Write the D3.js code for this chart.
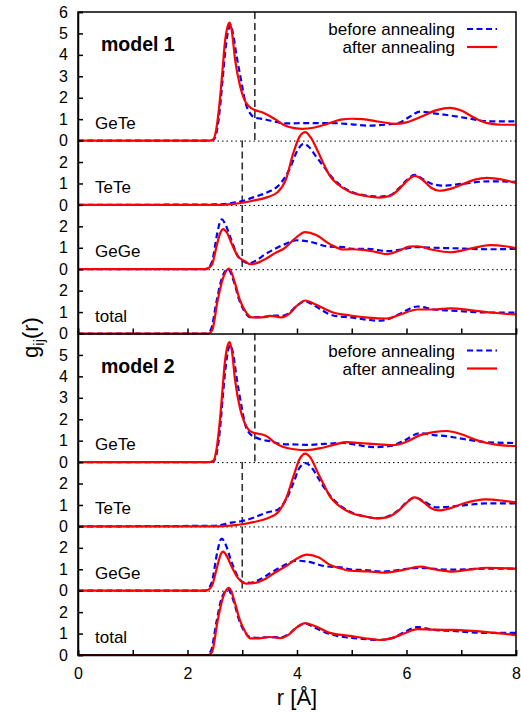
<!DOCTYPE html>
<html>
<head>
<meta charset="utf-8">
<script src="https://cdn.jsdelivr.net/npm/d3@7"></script>
<style>
  body { margin: 0; background: #fff; }
  text { font-family: "Liberation Sans", Arial, sans-serif; fill: #000; }
</style>
</head>
<body>
<div id="chart"></div>
<script>
// g(r) curves, [r, g] pairs
const m1GeTeBefore = [[0,0],[2.4,0],[2.48,0.05],[2.54,0.5],[2.6,1.7],[2.65,3.1],[2.7,4.4],[2.75,5.2],[2.79,5.4],[2.83,5.0],[2.9,3.9],[2.98,2.8],[3.06,1.75],[3.15,1.25],[3.23,1.07],[3.4,1.0],[3.6,0.88],[3.8,0.8],[4.2,0.82],[4.6,0.82],[5.0,0.76],[5.3,0.7],[5.6,0.74],[5.85,0.82],[6.05,1.1],[6.25,1.35],[6.5,1.27],[6.8,1.17],[7.1,1.05],[7.5,0.9],[8,0.9]];
const m1GeTeAfter = [[0,0],[2.4,0],[2.47,0.05],[2.53,0.6],[2.59,1.87],[2.64,3.3],[2.68,4.5],[2.73,5.3],[2.77,5.5],[2.81,5.1],[2.87,3.75],[2.96,2.55],[3.04,1.9],[3.12,1.6],[3.23,1.43],[3.35,1.33],[3.45,1.22],[3.6,1.0],[3.78,0.7],[3.95,0.58],[4.1,0.55],[4.3,0.6],[4.55,0.78],[4.8,0.98],[5.0,1.02],[5.2,1.0],[5.5,0.88],[5.8,0.78],[6.0,0.85],[6.3,1.15],[6.55,1.42],[6.8,1.53],[7.0,1.4],[7.25,1.05],[7.5,0.8],[7.75,0.74],[8,0.74]];
const m1TeTeBefore = [[0,0],[2.5,0.02],[2.8,0.08],[3.0,0.18],[3.2,0.35],[3.45,0.58],[3.69,0.98],[3.87,1.7],[4.0,2.5],[4.12,2.85],[4.22,2.7],[4.35,2.25],[4.5,1.75],[4.65,1.25],[4.8,0.9],[5.0,0.6],[5.25,0.44],[5.5,0.38],[5.7,0.45],[5.85,0.75],[6.0,1.15],[6.15,1.4],[6.3,1.2],[6.5,0.95],[6.7,0.9],[7.0,0.98],[7.5,1.1],[8,1.07]];
const m1TeTeAfter = [[0,0],[2.5,0],[2.8,0.04],[3.0,0.1],[3.2,0.2],[3.45,0.35],[3.65,0.6],[3.8,1.2],[3.93,2.4],[4.05,3.2],[4.15,3.4],[4.25,3.15],[4.38,2.5],[4.48,1.95],[4.6,1.35],[4.75,0.95],[4.97,0.6],[5.25,0.42],[5.5,0.34],[5.7,0.42],[5.85,0.7],[6.0,1.1],[6.15,1.35],[6.3,1.15],[6.45,0.8],[6.6,0.66],[6.8,0.75],[7.04,0.98],[7.25,1.18],[7.47,1.26],[7.75,1.18],[8,1.03]];
const m1GeGeBefore = [[0,0],[2.32,0],[2.4,0.12],[2.45,0.37],[2.54,1.63],[2.6,2.25],[2.63,2.33],[2.68,2.15],[2.81,1.3],[2.92,0.6],[3.05,0.33],[3.14,0.28],[3.25,0.4],[3.42,0.7],[3.6,0.95],[3.78,1.17],[4.0,1.35],[4.2,1.3],[4.6,1.05],[4.85,1.03],[5.0,0.95],[5.3,0.95],[5.64,0.84],[5.9,0.92],[6.2,1.03],[6.5,1.0],[6.8,0.98],[7.53,0.93],[8,0.95]];
const m1GeGeAfter = [[0,0],[2.32,0],[2.4,0.08],[2.45,0.23],[2.54,1.17],[2.6,1.7],[2.65,1.87],[2.72,1.7],[2.81,1.17],[2.92,0.61],[3.05,0.37],[3.14,0.23],[3.25,0.27],[3.42,0.47],[3.6,0.75],[3.78,1.0],[3.95,1.4],[4.15,1.73],[4.35,1.6],[4.6,1.17],[4.85,0.92],[5.0,0.93],[5.2,0.9],[5.45,0.8],[5.64,0.7],[5.85,0.85],[6.05,1.05],[6.2,1.07],[6.45,0.92],[6.8,0.79],[7.1,0.92],[7.53,1.12],[7.8,1.07],[8,0.98]];
const m1TotalBefore = [[0,0],[2.35,0],[2.43,0.2],[2.53,1.5],[2.63,2.6],[2.74,3.0],[2.85,2.4],[2.94,1.6],[3.04,1.05],[3.15,0.76],[3.36,0.76],[3.57,0.84],[3.72,0.82],[3.85,0.95],[4.0,1.3],[4.15,1.5],[4.3,1.32],[4.66,0.84],[4.97,0.75],[5.5,0.6],[5.64,0.65],[5.9,0.95],[6.2,1.26],[6.5,1.12],[6.8,1.07],[7.53,0.98],[8,0.98]];
const m1TotalAfter = [[0,0],[2.38,0],[2.45,0.15],[2.55,1.54],[2.65,2.6],[2.76,3.03],[2.87,2.33],[2.96,1.54],[3.05,1.07],[3.18,0.75],[3.36,0.75],[3.5,0.82],[3.6,0.8],[3.72,0.75],[3.85,0.9],[4.0,1.3],[4.15,1.54],[4.3,1.4],[4.66,0.98],[4.97,0.84],[5.3,0.74],[5.64,0.7],[5.9,0.9],[6.2,1.12],[6.5,1.12],[6.8,1.17],[7.2,1.08],[7.53,0.98],[8,0.89]];

const m2GeTeBefore = [[0,0],[2.4,0],[2.48,0.05],[2.54,0.5],[2.6,1.7],[2.65,3.2],[2.7,4.5],[2.75,5.3],[2.79,5.45],[2.83,5.1],[2.9,3.9],[2.98,2.7],[3.06,1.7],[3.15,1.3],[3.23,1.17],[3.35,1.05],[3.5,0.98],[3.7,0.85],[4.0,0.82],[4.2,0.8],[4.5,0.85],[4.85,0.89],[5.1,0.8],[5.4,0.7],[5.7,0.75],[5.95,1.0],[6.25,1.35],[6.5,1.26],[6.73,1.21],[7.1,1.05],[7.47,0.93],[8,0.89]];
const m2GeTeAfter = [[0,0],[2.4,0],[2.47,0.05],[2.53,0.6],[2.59,1.9],[2.64,3.4],[2.68,4.6],[2.73,5.4],[2.77,5.6],[2.81,5.2],[2.87,3.8],[2.96,2.5],[3.04,1.85],[3.12,1.5],[3.23,1.35],[3.35,1.3],[3.45,1.2],[3.6,0.9],[3.75,0.7],[3.95,0.6],[4.18,0.56],[4.45,0.66],[4.7,0.83],[4.9,0.93],[5.2,0.88],[5.5,0.83],[5.75,0.79],[6.0,0.95],[6.25,1.26],[6.5,1.4],[6.73,1.45],[7.0,1.3],[7.25,1.05],[7.47,0.89],[7.75,0.78],[8,0.75]];
const m2TeTeBefore = [[0,0],[2.5,0.03],[2.83,0.19],[3.0,0.25],[3.2,0.4],[3.45,0.65],[3.65,0.78],[3.8,1.25],[3.93,2.0],[4.05,2.75],[4.16,2.95],[4.28,2.7],[4.4,2.2],[4.5,1.8],[4.65,1.3],[4.8,0.95],[5.0,0.65],[5.27,0.45],[5.46,0.38],[5.64,0.45],[5.85,0.75],[6.0,1.12],[6.15,1.35],[6.3,1.2],[6.55,0.89],[6.8,0.92],[7.04,0.98],[7.43,1.07],[8,1.07]];
const m2TeTeAfter = [[0,0],[2.5,0],[2.83,0.05],[3.0,0.1],[3.2,0.2],[3.45,0.37],[3.65,0.65],[3.8,1.3],[3.93,2.3],[4.05,3.15],[4.15,3.4],[4.25,3.2],[4.38,2.5],[4.48,2.0],[4.6,1.4],[4.75,1.0],[4.97,0.65],[5.27,0.45],[5.46,0.37],[5.64,0.42],[5.85,0.72],[6.0,1.1],[6.15,1.35],[6.3,1.15],[6.45,0.85],[6.6,0.75],[6.8,0.85],[7.04,1.07],[7.25,1.2],[7.43,1.26],[7.75,1.2],[8,1.12]];
const m2GeGeBefore = [[0,0],[2.32,0],[2.4,0.15],[2.45,0.45],[2.54,1.75],[2.6,2.35],[2.63,2.43],[2.68,2.25],[2.81,1.3],[2.92,0.65],[3.05,0.38],[3.15,0.37],[3.3,0.5],[3.5,0.8],[3.7,1.1],[4.0,1.4],[4.2,1.35],[4.5,1.15],[4.85,1.07],[4.97,1.0],[5.3,0.95],[5.57,0.89],[5.9,0.98],[6.25,1.07],[6.6,1.0],[6.85,0.98],[7.47,1.03],[8,1.03]];
const m2GeGeAfter = [[0,0],[2.33,0],[2.4,0.08],[2.45,0.25],[2.54,1.1],[2.6,1.65],[2.65,1.82],[2.72,1.6],[2.81,1.1],[2.92,0.6],[3.08,0.33],[3.2,0.35],[3.42,0.55],[3.6,0.85],[3.8,1.15],[4.0,1.5],[4.18,1.68],[4.4,1.55],[4.6,1.21],[4.85,1.0],[4.97,0.93],[5.3,0.9],[5.57,0.84],[5.9,0.95],[6.25,1.12],[6.5,1.0],[6.85,0.89],[7.15,0.98],[7.47,1.07],[8,1.03]];
const m2TotalBefore = [[0,0],[2.35,0],[2.43,0.2],[2.53,1.55],[2.63,2.7],[2.74,3.05],[2.85,2.45],[2.94,1.65],[3.04,1.1],[3.14,0.84],[3.3,0.8],[3.5,0.84],[3.69,0.82],[3.85,0.98],[4.0,1.3],[4.15,1.47],[4.3,1.3],[4.6,0.98],[4.85,0.84],[5.2,0.75],[5.5,0.7],[5.75,0.8],[5.95,1.05],[6.2,1.3],[6.5,1.17],[6.85,1.12],[7.47,1.03],[8,1.03]];
const m2TotalAfter = [[0,0],[2.38,0],[2.45,0.15],[2.55,1.6],[2.65,2.7],[2.76,3.13],[2.87,2.4],[2.96,1.6],[3.05,1.1],[3.14,0.78],[3.3,0.78],[3.5,0.84],[3.69,0.79],[3.85,0.95],[4.0,1.3],[4.15,1.49],[4.3,1.38],[4.6,1.03],[4.97,0.89],[5.3,0.76],[5.5,0.7],[5.75,0.8],[5.95,1.0],[6.2,1.21],[6.5,1.18],[6.85,1.17],[7.47,1.07],[8,0.93]];

const models = ['model 1', 'model 2'];
const pairs = ['GeTe', 'TeTe', 'GeGe', 'total'];
const panelRange = [6, 3, 3, 3];          // y extent of each sub-panel
const cutoffs = [3.23, 3.0];              // dashed lines: GeTe, TeTe/GeGe
const seriesNames = ['before annealing', 'after annealing'];
const xTicks = [0, 1, 2, 3, 4, 5, 6, 7, 8];

const curves = [
  [[m1GeTeBefore, m1GeTeAfter], [m1TeTeBefore, m1TeTeAfter], [m1GeGeBefore, m1GeGeAfter], [m1TotalBefore, m1TotalAfter]],
  [[m2GeTeBefore, m2GeTeAfter], [m2TeTeBefore, m2TeTeAfter], [m2GeGeBefore, m2GeGeAfter], [m2TotalBefore, m2TotalAfter]]
];

const width = 521;
const height = 712;
const margin = {top: 12, right: 5, bottom: 57, left: 78};

const modelSpan = d3.sum(panelRange);     // 15
const yMax = modelSpan * models.length;   // 30

const x = d3.scaleLinear().domain([0, 8]).range([margin.left, width - margin.right]);
const y = d3.scaleLinear().domain([0, yMax]).range([height - margin.bottom, margin.top]);

// offsets of each sub-panel zero line
const panels = [];
models.forEach((m, mi) => {
  let top = yMax - mi * modelSpan;
  pairs.forEach((p, pi) => {
    const base = top - panelRange[pi];
    panels.push({model: mi, pair: p, index: pi, base: base, top: top});
    top = base;
  });
});

const svg = d3.select('#chart')
  .append('svg')
  .attr('width', width)
  .attr('height', height);

svg.append('defs').append('clipPath')
  .attr('id', 'clip')
  .append('rect')
  .attr('x', x(0))
  .attr('y', y(yMax))
  .attr('width', x(8) - x(0))
  .attr('height', y(0) - y(yMax));

// dotted zero lines
svg.append('g')
  .selectAll('line')
  .data(panels.filter(d => d.pair !== 'total'))
  .enter()
  .append('line')
  .attr('x1', x(0))
  .attr('x2', x(8))
  .attr('y1', d => y(d.base) + 0.5)
  .attr('y2', d => y(d.base) + 0.5)
  .attr('stroke', '#000')
  .attr('stroke-width', 1)
  .attr('stroke-dasharray', '1.5,3');

// cutoff dashed lines
panels.forEach(d => {
  if (d.pair === 'total') return;
  const r = d.pair === 'GeTe' ? cutoffs[0] : cutoffs[1];
  svg.append('line')
    .attr('x1', x(r)).attr('x2', x(r))
    .attr('y1', y(d.top)).attr('y2', y(d.base))
    .attr('stroke', '#333')
    .attr('stroke-width', 1.6)
    .attr('stroke-dasharray', '7,4');
});

const line = d3.line()
  .x(d => x(d[0]))
  .curve(d3.curveMonotoneX);

const plot = svg.append('g').attr('clip-path', 'url(#clip)');

panels.forEach(p => {
  const pair = curves[p.model][p.index];
  line.y(d => y(p.base + d[1]));
  plot.append('path')
    .attr('d', line(pair[0]))
    .attr('fill', 'none')
    .attr('stroke', '#0000ff')
    .attr('stroke-width', 2.2)
    .attr('stroke-dasharray', '6,3.5');
  plot.append('path')
    .attr('d', line(pair[1]))
    .attr('fill', 'none')
    .attr('stroke', '#ff0000')
    .attr('stroke-width', 2.2);
});

// left axis with repeating labels
const yTicks = [];
const yLabels = {};
panels.forEach(p => {
  const n = (p.index === 0 && p.model === 0) ? panelRange[0] : panelRange[p.index] - 1;
  for (let k = 0; k <= n; k++) {
    yTicks.push(p.base + k);
    yLabels[p.base + k] = k;
  }
});

const yAxis = svg.append('g')
  .attr('transform', `translate(${x(0)}, 0)`)
  .call(d3.axisLeft(y).tickValues(yTicks).tickFormat(d => yLabels[d]).tickSize(-5).tickPadding(10));

const xAxis = svg.append('g')
  .attr('transform', `translate(0, ${y(0)})`)
  .call(d3.axisBottom(x).tickValues(xTicks).tickFormat(d => d % 2 === 0 ? d : '').tickSize(-5).tickPadding(13));

// divider between the two models
svg.append('g')
  .attr('transform', `translate(0, ${y(modelSpan)})`)
  .call(d3.axisBottom(x).tickValues(xTicks).tickFormat('').tickSize(-5));

[yAxis, xAxis].forEach(a => {
  a.selectAll('text').style('font-size', '16px').style('font-family', '"Liberation Sans", Arial, sans-serif');
});
svg.selectAll('.domain, .tick line').attr('stroke', '#000').attr('stroke-width', 1.5);

// frame
svg.append('rect')
  .attr('x', x(0))
  .attr('y', y(yMax))
  .attr('width', x(8) - x(0))
  .attr('height', y(0) - y(yMax))
  .attr('fill', 'none')
  .attr('stroke', '#000')
  .attr('stroke-width', 1.5);

// panel labels
svg.append('g')
  .selectAll('text')
  .data(panels)
  .enter()
  .append('text')
  .attr('x', 95)
  .attr('y', d => y(d.base) - 12)
  .style('font-size', '17px')
  .text(d => d.pair);

// model titles and legends
models.forEach((m, mi) => {
  const top = y(yMax - mi * modelSpan);
  svg.append('text')
    .attr('x', 101)
    .attr('y', top + 39)
    .style('font-size', '19.5px')
    .style('font-weight', 'bold')
    .text(m);

  seriesNames.forEach((s, si) => {
    const ly = top + 17 + si * 18;
    svg.append('text')
      .attr('x', 455)
      .attr('y', ly + 6)
      .attr('text-anchor', 'end')
      .style('font-size', '17px')
      .text(s);
    svg.append('line')
      .attr('x1', 467).attr('x2', 497)
      .attr('y1', ly).attr('y2', ly)
      .attr('stroke', si === 0 ? '#0000ff' : '#ff0000')
      .attr('stroke-width', 2.2)
      .attr('stroke-dasharray', si === 0 ? '6,3.5' : null);
  });
});

// axis titles
svg.append('text')
  .attr('x', (x(0) + x(8)) / 2)
  .attr('y', 705)
  .attr('text-anchor', 'middle')
  .style('font-size', '22px')
  .text('r [Å]');

const yt = svg.append('text')
  .attr('transform', `translate(38, ${y(yMax / 2) + 4}) rotate(-90)`)
  .attr('text-anchor', 'middle')
  .style('font-size', '22px');
yt.append('tspan').text('g');
yt.append('tspan').attr('dy', 6).style('font-size', '15px').text('ij');
yt.append('tspan').attr('dy', -6).text('(r)');
</script>
</body>
</html>
